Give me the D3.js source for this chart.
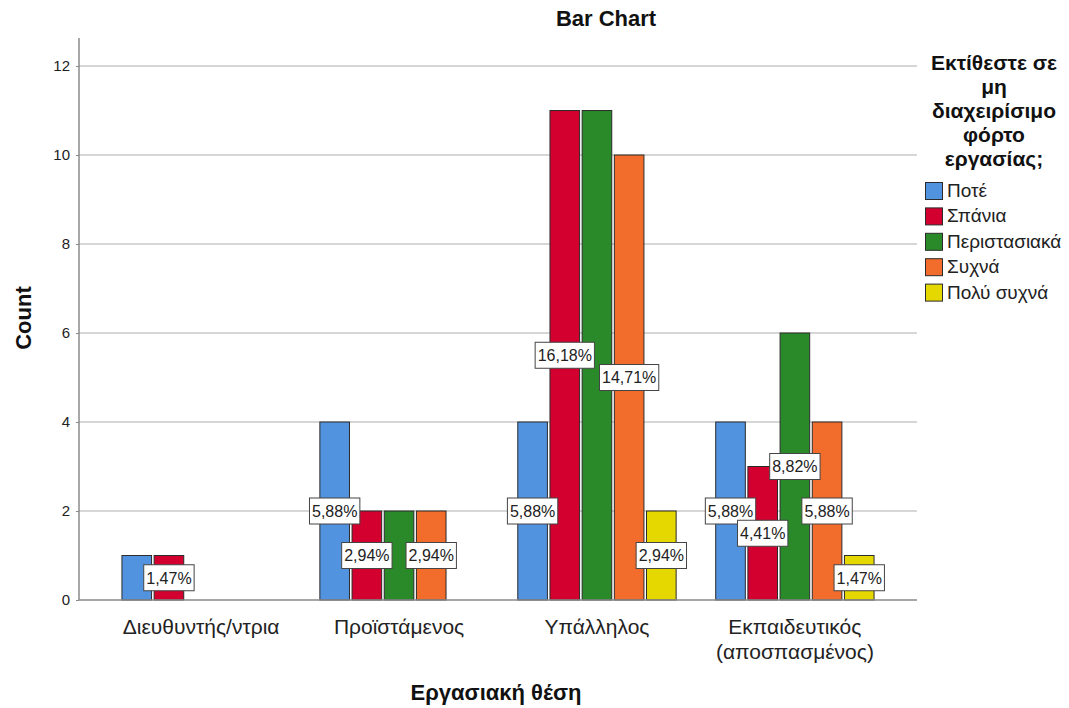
<!DOCTYPE html>
<html>
<head>
<meta charset="utf-8">
<script src="https://cdn.jsdelivr.net/npm/d3@7"></script>
<style>
  html, body { margin: 0; padding: 0; background: #ffffff; }
  svg { display: block; }
  text { font-family: "Liberation Sans", Arial, sans-serif; }
</style>
</head>
<body>
<svg id="chart" width="1069" height="708"></svg>
<script>
// ---- Data ----
const categories = ["Διευθυντής/ντρια", "Προϊστάμενος", "Υπάλληλος", "Εκπαιδευτικός (αποσπασμένος)"];
const seriesNames = ["Ποτέ", "Σπάνια", "Περιστασιακά", "Συχνά", "Πολύ συχνά"];
const countsPote = [1, 4, 4, 4];
const countsSpania = [1, 2, 11, 3];
const countsPeristasiaka = [0, 2, 11, 6];
const countsSyxna = [0, 2, 10, 4];
const countsPolySyxna = [0, 0, 2, 1];
// which percentage labels the original chart displays (others were hidden)
const labelPote = [false, true, true, true];
const labelSpania = [true, true, true, true];
const labelPeristasiaka = [false, false, false, true];
const labelSyxna = [false, true, true, true];
const labelPolySyxna = [false, false, true, true];
const yTicks = [0, 2, 4, 6, 8, 10, 12];
const legendTitleLines = ["Εκτίθεστε σε", "μη", "διαχειρίσιμο", "φόρτο", "εργασίας;"];
const chartTitle = "Bar Chart";
const xTitle = "Εργασιακή θέση";
const yTitle = "Count";

const seriesColors = ["#5293e0", "#d3002f", "#2a8a2a", "#f26c2b", "#e4d800"];

const allCounts = [countsPote, countsSpania, countsPeristasiaka, countsSyxna, countsPolySyxna];
const allLabels = [labelPote, labelSpania, labelPeristasiaka, labelSyxna, labelPolySyxna];
const total = d3.sum(allCounts.flat());

const rows = [];
categories.forEach((c, ci) => {
  seriesNames.forEach((s, si) => {
    rows.push({ cat: c, series: s, si: si, value: allCounts[si][ci], show: allLabels[si][ci] });
  });
});

// ---- Layout ----
const svg = d3.select("#chart");
const plotLeft = 79, plotRight = 917, plotTop = 38, plotBottom = 600;

const x = d3.scaleBand().domain(categories).range([plotLeft, plotRight])
  .paddingInner(0.2).paddingOuter(0.217);
const xs = d3.scaleBand().domain(seriesNames).range([0, x.bandwidth()])
  .paddingInner(0.08).paddingOuter(0);
const y = d3.scaleLinear().domain([0, 12.63]).range([plotBottom, plotTop]);

// gridlines
svg.append("g").selectAll("line").data(yTicks.filter(d => d > 0)).join("line")
  .attr("x1", plotLeft).attr("x2", plotRight)
  .attr("y1", d => y(d)).attr("y2", d => y(d))
  .attr("stroke", "#c8c8c8").attr("stroke-width", 1.5);

// y axis
const yAxis = d3.axisLeft(y).tickValues(yTicks).tickSize(3).tickPadding(6).tickFormat(d3.format("d"));
const gy = svg.append("g").attr("transform", `translate(${plotLeft},0)`).call(yAxis);
gy.select(".domain").attr("stroke", "#8a8a8a").attr("stroke-width", 1.5)
  .attr("d", `M0,${plotTop}V${plotBottom}`);
gy.selectAll(".tick line").attr("stroke", "#8a8a8a");
gy.selectAll(".tick text").attr("font-family", "Liberation Sans, Arial, sans-serif")
  .attr("font-size", 15).attr("fill", "#222");

// bars
const bars = svg.append("g");
bars.selectAll("rect").data(rows.filter(r => r.value > 0)).join("rect")
  .attr("x", d => x(d.cat) + xs(d.series))
  .attr("y", d => y(d.value))
  .attr("width", xs.bandwidth())
  .attr("height", d => y(0) - y(d.value))
  .attr("fill", d => seriesColors[d.si])
  .attr("stroke", "#2b2b2b").attr("stroke-width", 1);

// x axis baseline
svg.append("line").attr("x1", plotLeft).attr("x2", plotRight)
  .attr("y1", plotBottom).attr("y2", plotBottom)
  .attr("stroke", "#8a8a8a").attr("stroke-width", 1.5);

// x axis labels
const xAxis = d3.axisBottom(x).tickSize(0).tickPadding(0);
const gx = svg.append("g").attr("transform", `translate(0,${plotBottom})`).call(xAxis);
gx.select(".domain").remove();
gx.selectAll(".tick text").each(function(d) {
  const t = d3.select(this);
  t.text(null).attr("y", 0).attr("dy", null)
    .attr("font-family", "Liberation Sans, Arial, sans-serif")
    .attr("font-size", 21).attr("fill", "#222");
  const parts = d === "Εκπαιδευτικός (αποσπασμένος)" ? ["Εκπαιδευτικός", "(αποσπασμένος)"] : [d];
  parts.forEach((p, i) => {
    t.append("tspan").attr("x", 0).attr("y", 34 + i * 25).text(p);
  });
});

// percentage labels
const fmt = v => (v / total * 100).toFixed(2).replace(".", ",") + "%";
const lab = svg.append("g");
rows.filter(r => r.value > 0 && r.show).forEach(r => {
  const cx = x(r.cat) + xs(r.series) + xs.bandwidth() / 2;
  const cy = (y(r.value) + y(0)) / 2;
  const g = lab.append("g").attr("transform", `translate(${cx},${cy})`);
  const txt = g.append("text").attr("text-anchor", "middle").attr("dy", "0.36em")
    .attr("font-size", 16).attr("fill", "#222").text(fmt(r.value));
  const bb = txt.node().getBBox();
  g.insert("rect", "text")
    .attr("x", -bb.width / 2 - 2.5).attr("y", -13)
    .attr("width", bb.width + 5).attr("height", 26)
    .attr("fill", "#fff").attr("stroke", "#444").attr("stroke-width", 1);
});

// titles
svg.append("text").attr("x", 606).attr("y", 26).attr("text-anchor", "middle")
  .attr("font-size", 22).attr("font-weight", "bold").attr("fill", "#111").text(chartTitle);
svg.append("text").attr("x", 496).attr("y", 700).attr("text-anchor", "middle")
  .attr("font-size", 22).attr("font-weight", "bold").attr("fill", "#111").text(xTitle);
svg.append("text").attr("transform", "translate(31,318) rotate(-90)").attr("text-anchor", "middle")
  .attr("font-size", 22).attr("font-weight", "bold").attr("fill", "#111").text(yTitle);

// legend
const leg = svg.append("g");
legendTitleLines.forEach((l, i) => {
  leg.append("text").attr("x", 994).attr("y", 70 + i * 24).attr("text-anchor", "middle")
    .attr("font-size", 21).attr("font-weight", "bold").attr("fill", "#111").text(l);
});
seriesNames.forEach((s, i) => {
  const yy = 182 + i * 25.4;
  leg.append("rect").attr("x", 925.5).attr("y", yy + 0.5).attr("width", 17).attr("height", 17)
    .attr("fill", seriesColors[i]).attr("stroke", "#2b2b2b").attr("stroke-width", 1);
  leg.append("text").attr("x", 947).attr("y", yy + 15)
    .attr("font-family", "Liberation Sans, Arial, sans-serif")
    .attr("font-size", 19).attr("fill", "#222").text(s);
});
</script>
</body>
</html>
